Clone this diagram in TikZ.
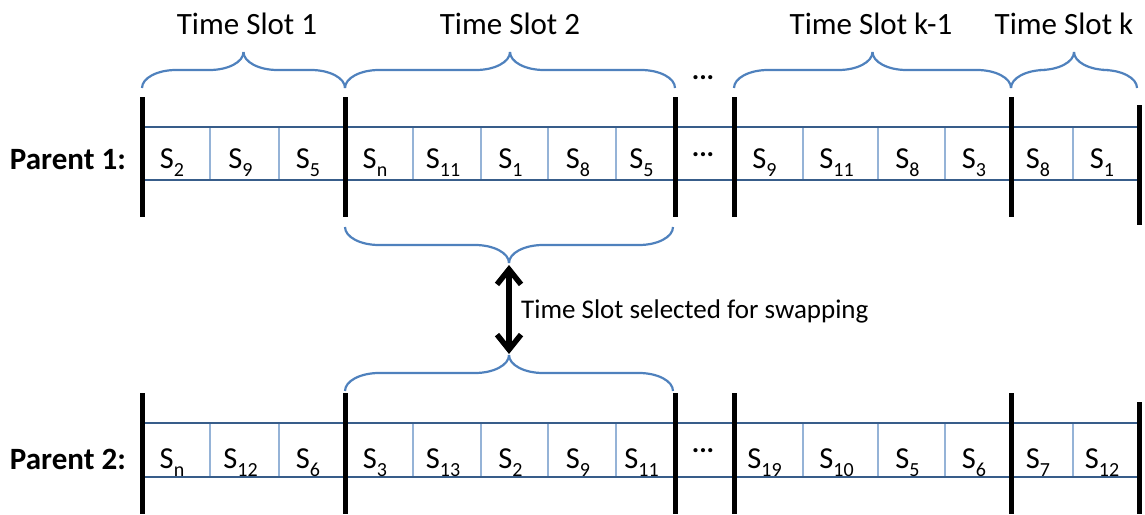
\documentclass[tikz,border=0pt]{standalone}
\usepackage{fontspec}
\setmainfont{Carlito}
\usetikzlibrary{arrows.meta}

\definecolor{bracecol}{RGB}{79,129,189}
\definecolor{rulecol}{RGB}{56,93,138}
\definecolor{cellcol}{RGB}{149,179,215}

% slot entry: S with a lowered, smaller index
\newcommand{\sv}[1]{S\raisebox{-8.5pt}{\fontsize{20}{20}\selectfont #1}}

% curly brace from x=#1 to x=#2, ends at y=#3, height #4 (negative: tip above);
% each bend is a quarter ellipse, 34 wide and half the height tall
\newcommand{\slotbrace}[4]{%
  \pgfmathsetmacro\bxc{(#1+#2)/2}%
  \pgfmathsetmacro\bym{#3+#4/2}%
  \pgfmathsetmacro\byt{#3+#4}%
  \pgfmathsetmacro\bya{#3+0.552*(#4/2)}%
  \pgfmathsetmacro\byb{\byt-0.552*(#4/2)}%
  \draw[brace line] (#1,#3) .. controls (#1,\bya) and ({#1+15.2},\bym) .. ({#1+34},\bym)
    -- ({\bxc-34},\bym) .. controls ({\bxc-15.2},\bym) and (\bxc,\byb) .. (\bxc,\byt);
  \draw[brace line] (#2,#3) .. controls (#2,\bya) and ({#2-15.2},\bym) .. ({#2-34},\bym)
    -- ({\bxc+34},\bym) .. controls ({\bxc+15.2},\bym) and (\bxc,\byb) .. (\bxc,\byt);
}

\tikzset{
  brace line/.style={draw=bracecol, line width=2.2pt},
  rule line/.style={draw=rulecol, line width=2.4pt},
  cell line/.style={draw=cellcol, line width=1.1pt},
  bar line/.style={draw=black, line width=5pt},
  entry/.style={font=\fontsize{30.5}{30.5}\selectfont, anchor=base, inner sep=0pt},
  rowlabel/.style={font=\fontsize{31}{31}\selectfont\bfseries, anchor=base east, inner sep=0pt},
  slotlabel/.style={font=\fontsize{31}{31}\selectfont, anchor=base, inner sep=0pt},
  dots/.style={font=\fontsize{28}{28}\selectfont\bfseries, inner sep=0pt},
}

\begin{document}
\begin{tikzpicture}[x=1pt, y=-1pt]
\useasboundingbox (0,0) rectangle (1145,514);

% ---------- time slot labels and braces above parent 1 ----------
\node[slotlabel] (ts1) at (247,34) {Time Slot 1};
\node[slotlabel] (ts2) at (510,34) {Time Slot 2};
\node[slotlabel] (tsk1) at (871,34) {Time Slot k-1};
\node[slotlabel] (tsk) at (1064,34) {Time Slot k};
\slotbrace{142}{345}{88}{-36}
\slotbrace{345}{675}{88}{-36}
\slotbrace{734}{1011}{88}{-36}
\slotbrace{1011}{1137}{88}{-36}
\node[dots] (topdots) at (703,78) {...};

% ---------- the two chromosomes ----------
\foreach \row/\yt/\yb/\ybase/\labname/\labtext/\barA/\barB/\barC/\barD in
  {1/127/180/168/p1/Parent 1:/97/217/105/225,
   2/423/477/468/p2/Parent 2:/393/514/402/514}{
  \node[rowlabel] (\labname) at (126,\ybase+1) {\labtext};
  % thin dividers between the entries
  \foreach \x in {210,279,413,481,548,616,803,878,945,1073}
    \draw[cell line] (\x,\yt) -- (\x,\yb);
  % upper and lower rules
  \draw[rule line] (142,\yt) -- (1139,\yt);
  \draw[rule line] (142,\yb) -- (1139,\yb);
  % slot boundaries
  \foreach \x in {142,345,675,734,1011}
    \draw[bar line] (\x,\barA) -- (\x,\barB);
  \draw[bar line] (1139,\barC) -- (1139,\barD);
  \node[dots] (rowdots\row) at (703,{(\yt+\yb)/2+1}) {...};
}

% entries of parent 1
\foreach \xl/\xr/\s [count=\i] in
  {142/210/2, 210/279/9, 279/345/5, 345/413/n, 413/481/11, 481/548/1,
   548/616/8, 616/675/5, 734/803/9, 803/878/11, 878/945/8, 945/1011/3,
   1011/1073/8, 1073/1139/1}
  \node[entry] (a\i) at ({(\xl+\xr)/2-4},168) {\sv{\s}};

% entries of parent 2
\foreach \xl/\xr/\s [count=\i] in
  {142/210/n, 210/279/12, 279/345/6, 345/413/3, 413/481/13, 481/548/2,
   548/616/9, 616/675/11, 734/803/19, 803/878/10, 878/945/5, 945/1011/6,
   1011/1073/7, 1073/1139/12}
  \node[entry] (b\i) at ({(\xl+\xr)/2-4},468) {\sv{\s}};

% ---------- selected slot and swap arrow ----------
\slotbrace{345}{673}{227}{36}
\slotbrace{345}{673}{391}{-36}
\coordinate (tipA) at (509,265);
\coordinate (tipB) at (509,354);
\draw[line width=5.5pt, {Straight Barb[length=15pt,width=24pt]}-{Straight Barb[length=15pt,width=24pt]}]
  (tipA) -- (tipB);
\node[font=\fontsize{27}{27}\selectfont, anchor=base west, inner sep=0pt]
  (swap) at (521,318) {Time Slot selected for swapping};
\end{tikzpicture}
\end{document}
